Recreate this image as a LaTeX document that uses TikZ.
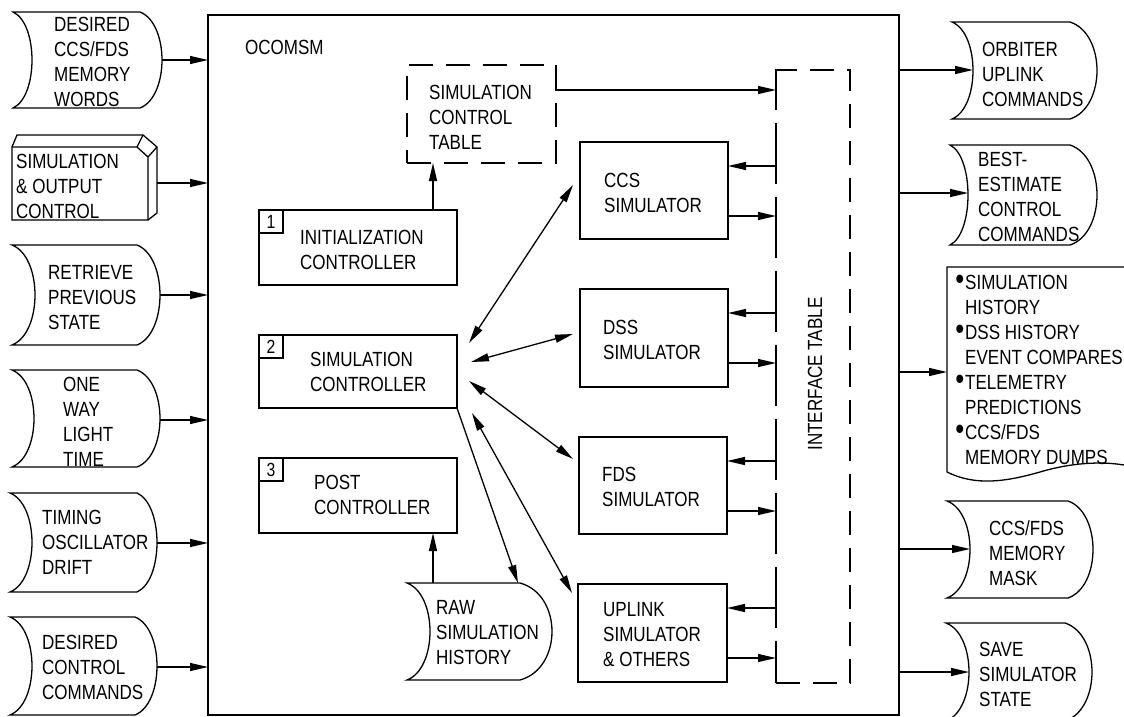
\documentclass[tikz,border=0pt]{standalone}
\usepackage{fontspec}
\newfontfamily\df[FakeStretch=0.83]{Liberation Sans}
\usetikzlibrary{arrows.meta,calc}
\newcommand\sdshape[5]{% top, bottom, left corner x, concave depth, right corner x; bulge in \sdbulge
  \draw[ln] (#3,#1) -- (#5,#1)
    .. controls ({#5+1.333*\sdbulge},{#1+0.12*(#2-#1)}) and ({#5+1.333*\sdbulge},{#2-0.12*(#2-#1)}) .. (#5,#2)
    -- (#3,#2)
    .. controls ({#3+1.333*#4},{#2-0.12*(#2-#1)}) and ({#3+1.333*#4},{#1+0.12*(#2-#1)}) .. (#3,#1) -- cycle;}
\newcommand\sdbulge{20}
\begin{document}
\begin{tikzpicture}[x=1pt,y=-1pt,
  ln/.style={line width=1.3pt},
  box/.style={draw, line width=1.3pt, inner sep=0pt, outer sep=0pt},
  dbox/.style={box, dash pattern=on 24pt off 13pt},
  lbl/.style={font=\df\fontsize{20.5}{25}\selectfont, inner sep=0pt, align=left, anchor=north west},
  numbox/.style={box, minimum width=24pt, minimum height=23pt, anchor=north west, font=\df\fontsize{19}{22}\selectfont},
  arr/.style={ln, -{Triangle[length=18pt,width=8pt]}},
  darr/.style={ln, {Triangle[length=18pt,width=8pt]}-{Triangle[length=18pt,width=8pt]}},
]
\useasboundingbox (0,0) rectangle (1124,717);

% main box
\node[box, minimum width=691pt, minimum height=700pt] (main) at (553.5,365) {};
\node[lbl] (title) at (245,40) {OCOMSM};

% inner boxes
\node[dbox, minimum width=149pt, minimum height=98pt] (sct) at (481.5,114) {};
\node[lbl] (sctt) at (429,85) {SIMULATION\\CONTROL\\TABLE};
\node[dbox, minimum width=74pt, minimum height=613pt] (it) at (813,376.5) {};
\node[lbl, rotate=90, anchor=center] (itt) at (815,374) {INTERFACE TABLE};

\node[box, minimum width=198pt, minimum height=75pt] (init) at (358,247.5) {};
\node[numbox] (n1) at (init.north west) {1};
\node[lbl] (initt) at (300,230) {INITIALIZATION\\CONTROLLER};

\node[box, minimum width=198pt, minimum height=73pt] (simc) at (358,371.5) {};
\node[numbox] (n2) at (simc.north west) {2};
\node[lbl] (simct) at (310,352) {SIMULATION\\CONTROLLER};

\node[box, minimum width=198pt, minimum height=75pt] (post) at (358,495.5) {};
\node[numbox] (n3) at (post.north west) {3};
\node[lbl] (postt) at (314,475) {POST\\CONTROLLER};

\node[box, minimum width=148pt, minimum height=97pt] (ccs) at (654,190.5) {};
\node[lbl] (ccst) at (604,173) {CCS\\SIMULATOR};
\node[box, minimum width=148pt, minimum height=98pt] (dss) at (654,338) {};
\node[lbl] (dsst) at (603,320) {DSS\\SIMULATOR};
\node[box, minimum width=148pt, minimum height=97pt] (fds) at (653,485.5) {};
\node[lbl] (fdst) at (602,467) {FDS\\SIMULATOR};
\node[box, minimum width=149pt, minimum height=98pt] (upl) at (652.5,633) {};
\node[lbl] (uplt) at (603,602) {UPLINK\\SIMULATOR\\\&\ OTHERS};

% raw simulation history
\renewcommand\sdbulge{32}\sdshape{583}{680}{407}{23}{520}
\node[lbl] (rawt) at (436,600) {RAW\\SIMULATION\\HISTORY};
\coordinate (rawA) at (433,583);
\coordinate (rawB) at (518,583);

% inner connectors
\coordinate (initA) at ($(init.north west)+(174,0)$);
\draw[arr] (initA) -- (initA |- sct.south);
\draw[arr] (rawA) -- (rawA |- post.south);
\draw[arr] (simc.south east) -- (rawB);
\coordinate (sctout) at ($(sct.north east)+(0,25)$);
\draw[arr] (sct.north east) -- (sctout) -- (sctout -| it.west);
\draw[ln] (it.north west) -- (sctout -| it.west);

\draw[darr] ($(simc.east)+(12,-28.5)$) -- ($(ccs.west)+(-7,-5.5)$);
\draw[darr] ($(simc.east)+(14,-9.5)$) -- ($(dss.west)+(-7,-4)$);
\draw[darr] ($(simc.east)+(12,9.5)$) -- ($(fds.west)+(-6,-26.5)$);
\draw[darr] ($(simc.east)+(15,41.5)$) -- ($(upl.west)+(-6,-40)$);

\foreach \s in {ccs,dss,fds,upl}{
  \coordinate (\s i) at ($(\s.north east)+(0,24)$);
  \coordinate (\s o) at ($(\s.north east)+(0,74)$);
  \coordinate (\s I) at (\s i -| it.west);
  \coordinate (\s O) at (\s o -| it.west);
  \draw[arr] ($(\s I)+(0,-22)$) -- (\s I) -- (\s i);
  \draw[arr] (\s o) -- (\s O);
  \draw[ln] (\s O) -- ($(\s O)+(0,22)$);
}

% left inputs
\renewcommand\sdbulge{22}\sdshape{12}{108}{13}{19}{140}
\node[lbl] (l1t) at (54,17) {DESIRED\\CCS/FDS\\MEMORY\\WORDS};
\coordinate (l1) at (162,60);

\draw[ln] (148,220) -- (12,220) -- (12,147) -- (137,147) -- (148,157) -- cycle;
\draw[ln] (12,147) -- (17,135) -- (143,135) -- (157,147) -- (157,213) -- (148,220);
\draw[ln] (137,147) -- (143,135);
\draw[ln] (148,157) -- (157,147);
\node[lbl] (l2t) at (16,154) {SIMULATION\\\&\ OUTPUT\\CONTROL};
\coordinate (l2) at (157,183);

\renewcommand\sdbulge{23}\sdshape{245}{345}{12}{23}{137}
\node[lbl] (l3t) at (48,265) {RETRIEVE\\PREVIOUS\\STATE};
\coordinate (l3) at (160,295);

\renewcommand\sdbulge{23}\sdshape{370}{467}{12}{22}{137}
\node[lbl] (l4t) at (63,377) {ONE\\WAY\\LIGHT\\TIME};
\coordinate (l4) at (160,420);

\renewcommand\sdbulge{20}\sdshape{493}{592}{10}{22}{137}
\node[lbl] (l5t) at (42,510) {TIMING\\OSCILLATOR\\DRIFT};
\coordinate (l5) at (157,543);

\renewcommand\sdbulge{22}\sdshape{617}{715}{10}{22}{135}
\node[lbl] (l6t) at (42,635) {DESIRED\\CONTROL\\COMMANDS};
\coordinate (l6) at (157,667);

\foreach \c in {l1,l2,l3,l4,l5,l6}{
  \draw[arr] (\c) -- (\c -| main.west);
}

% right outputs
\renewcommand\sdbulge{27}\sdshape{22}{119}{952}{21}{1070}
\node[lbl] (r1t) at (982,42) {ORBITER\\UPLINK\\COMMANDS};
\coordinate (r1) at (973,70);

\renewcommand\sdbulge{27}\sdshape{145}{245}{950}{18}{1070}
\node[lbl] (r2t) at (978,152) {BEST-\\ESTIMATE\\CONTROL\\COMMANDS};
\coordinate (r2) at (968,193);

\draw[ln] (1124,267) -- (947,267) -- (947,472)
  .. controls (975,486) and (1005,482) .. (1040,472)
  .. controls (1070,463) and (1100,461) .. (1124,465);
\node[lbl] (r3t) at (965,275) {\llap{\scalebox{1.5}{\textbullet}\hspace{1pt}}SIMULATION\\HISTORY\\\llap{\scalebox{1.5}{\textbullet}\hspace{1pt}}DSS HISTORY\\EVENT COMPARES\\\llap{\scalebox{1.5}{\textbullet}\hspace{1pt}}TELEMETRY\\PREDICTIONS\\\llap{\scalebox{1.5}{\textbullet}\hspace{1pt}}CCS/FDS\\MEMORY DUMPS};
\coordinate (r3) at (947,372);

\renewcommand\sdbulge{25}\sdshape{501}{598}{947}{23}{1068}
\node[lbl] (r4t) at (989,520) {CCS/FDS\\MEMORY\\MASK};
\coordinate (r4) at (970,549);

\renewcommand\sdbulge{27}\sdshape{623}{721}{946}{23}{1065}
\node[lbl] (r5t) at (979,642) {SAVE\\SIMULATOR\\STATE};
\coordinate (r5) at (969,672);

\foreach \c in {r1,r2,r3,r4,r5}{
  \draw[arr] (\c -| main.east) -- (\c);
}
\end{tikzpicture}
\end{document}
